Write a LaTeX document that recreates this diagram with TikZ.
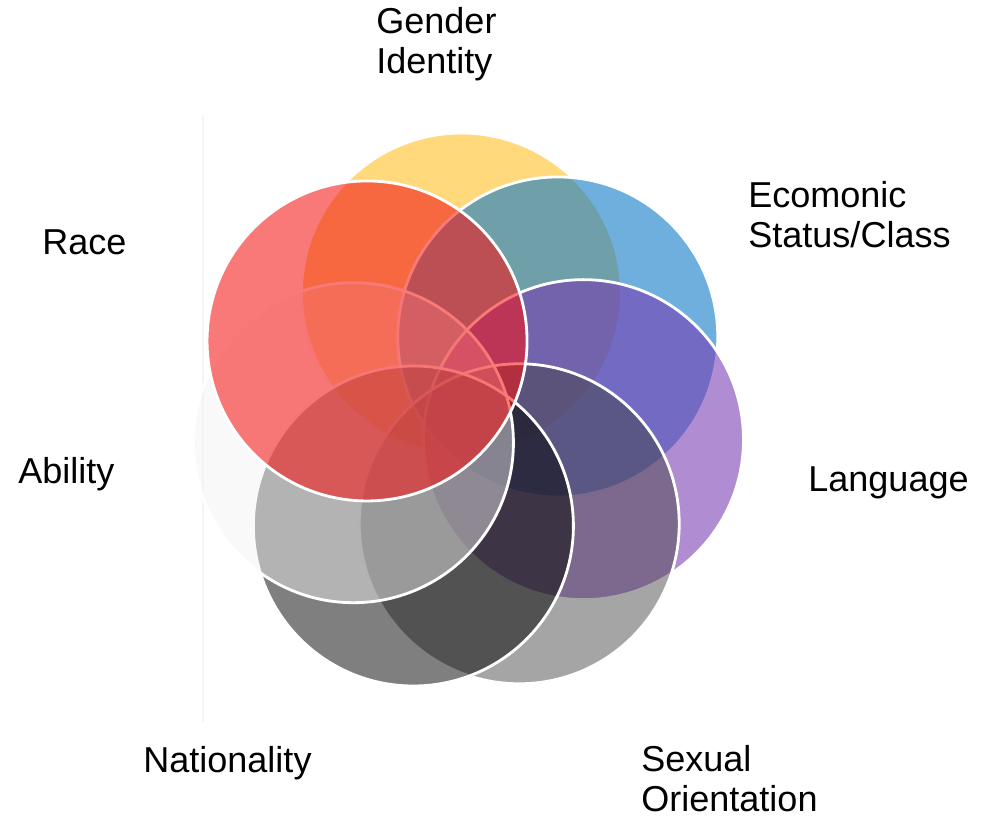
\documentclass[tikz,border=0pt]{standalone}
\usepackage{fontspec}
\setmainfont{Liberation Sans}
\usetikzlibrary{positioning}

\definecolor{gendercol}{RGB}{255,210,100}
\definecolor{econcol}{RGB}{15,122,200}
\definecolor{langcol}{RGB}{119,57,178}
\definecolor{sexcol}{RGB}{67,67,67}
\definecolor{natcol}{RGB}{0,0,0}
\definecolor{abilcol}{RGB}{242,242,242}
\definecolor{racecol}{RGB}{245,20,20}

\begin{document}
\begin{tikzpicture}[
    petal/.style={circle, minimum size=6.4cm, inner sep=0pt, outer sep=0pt, draw=white, line width=1.6pt},
    lbl/.style={anchor=north west, inner sep=0pt, align=left, font=\fontsize{20.5}{22.8}\selectfont}
]
    \useasboundingbox (0,0) rectangle (19.8,16.36);

    % faint edge on the left
    \draw[black!4, line width=0.8pt] (4.06,1.92) -- (4.06,14.06);

    % ring of circles, clockwise from the top, race last
    \begin{scope}[shift={(9.28,8.06)}]
        \foreach \ang/\d/\col/\op/\name in {91.2/2.44/gendercol/0.85/gender, 39.77/2.44/econcol/0.6/econ,
                                           -11.66/2.44/langcol/0.58/lang, -63.09/2.44/sexcol/0.48/sex,
                                           -114.51/2.44/natcol/0.5/nat, -165.94/2.28/abilcol/0.45/abil,
                                           142.63/2.44/racecol/0.57/race} {
            \node[petal, fill=\col, fill opacity=\op] (\name) at (\ang:\d) {};
        }
    \end{scope}

    % labels
    \node[lbl] (genderlbl) at (7.52,16.22) {Gender\\Identity};
    \node[lbl] (econlbl) at (14.96,12.74) {Ecomonic\\Status/Class};
    \node[lbl] (racelbl) at (0.84,11.78) {Race};
    \node[lbl] (abillbl) at (0.36,7.22) {Ability};
    \node[lbl] (langlbl) at (16.16,7.04) {Language};
    \node[lbl] (natlbl) at (2.86,1.44) {Nationality};
    \node[lbl] (sexlbl) at (12.82,1.46) {Sexual\\Orientation};
\end{tikzpicture}
\end{document}
